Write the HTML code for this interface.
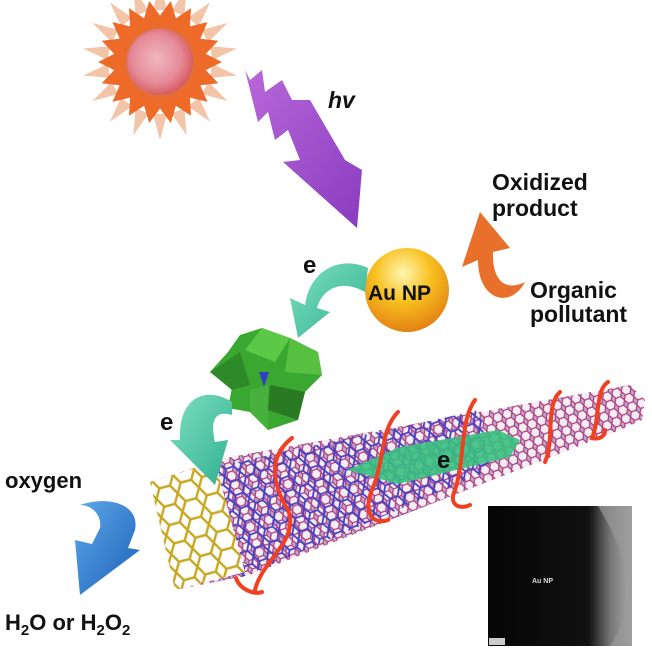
<!DOCTYPE html>
<html><head><meta charset="utf-8"><style>
body{margin:0;background:#fff}
svg{display:block}
text{font-family:"Liberation Sans",sans-serif;font-weight:bold;fill:#111}
</style></head><body>
<svg width="652" height="656" viewBox="0 0 652 656" xmlns="http://www.w3.org/2000/svg">
<defs>
<radialGradient id="sun" cx="0.45" cy="0.45" r="0.6"><stop offset="0" stop-color="#f0b8c0"/><stop offset="0.6" stop-color="#e68a98"/><stop offset="1" stop-color="#d05050"/></radialGradient>
<radialGradient id="au" cx="0.45" cy="0.3" r="0.75"><stop offset="0" stop-color="#fff6b0"/><stop offset="0.45" stop-color="#f8c020"/><stop offset="1" stop-color="#e07a10"/></radialGradient>
<linearGradient id="purp" x1="0" y1="0" x2="1" y2="1"><stop offset="0" stop-color="#b868d8"/><stop offset="1" stop-color="#8a3cc0"/></linearGradient>
<linearGradient id="teal" x1="0" y1="0" x2="1" y2="1"><stop offset="0" stop-color="#7fe0c0"/><stop offset="1" stop-color="#30b090"/></linearGradient>
<linearGradient id="blue" x1="0" y1="0" x2="1" y2="1"><stop offset="0" stop-color="#5fa8e8"/><stop offset="1" stop-color="#1a5fb8"/></linearGradient>
<linearGradient id="tem" x1="0" y1="0" x2="1" y2="0"><stop offset="0" stop-color="#050505"/><stop offset="0.7" stop-color="#111"/><stop offset="0.85" stop-color="#777"/><stop offset="1" stop-color="#aaa"/></linearGradient>
<pattern id="hex" width="10" height="9" patternUnits="userSpaceOnUse" patternTransform="rotate(-20)">
<rect width="10" height="9" fill="#b8a8d0"/>
<path d="M0 4.5 L2.5 0 L7.5 0 L10 4.5 L7.5 9 L2.5 9 Z" fill="#f4eef4" stroke="#b03878" stroke-width="1.2"/>
</pattern>
<pattern id="hex2" width="16" height="14" patternUnits="userSpaceOnUse" patternTransform="rotate(-20)">
<path d="M0 7 L4 0 L12 0 L16 7 L12 14 L4 14 Z" fill="none" stroke="#4a40c0" stroke-width="1.8"/>
</pattern>
<pattern id="hexy" width="22" height="19" patternUnits="userSpaceOnUse" patternTransform="rotate(-15)">
<path d="M0 9.5 L5.5 0 L16.5 0 L22 9.5 L16.5 19 L5.5 19 Z" fill="none" stroke="#c8a820" stroke-width="2.4"/>
</pattern>
<polygon id="sp" points="-7,-52 0,-78 7,-52"/>
<polygon id="pt" points="-11,-40 0,-62 11,-40"/>
</defs>

<!-- sun -->
<g transform="translate(160,62)">
<g fill="#f2c4a8">
<use href="#sp"/><use href="#sp" transform="rotate(20)"/><use href="#sp" transform="rotate(40)"/><use href="#sp" transform="rotate(60)"/><use href="#sp" transform="rotate(80)"/><use href="#sp" transform="rotate(100)"/><use href="#sp" transform="rotate(120)"/><use href="#sp" transform="rotate(140)"/><use href="#sp" transform="rotate(160)"/><use href="#sp" transform="rotate(180)"/><use href="#sp" transform="rotate(200)"/><use href="#sp" transform="rotate(220)"/><use href="#sp" transform="rotate(240)"/><use href="#sp" transform="rotate(260)"/><use href="#sp" transform="rotate(280)"/><use href="#sp" transform="rotate(300)"/><use href="#sp" transform="rotate(320)"/><use href="#sp" transform="rotate(340)"/>
</g>
<g fill="#ee6a28">
<circle r="46"/>
<use href="#pt" transform="rotate(10)"/><use href="#pt" transform="rotate(30)"/><use href="#pt" transform="rotate(50)"/><use href="#pt" transform="rotate(70)"/><use href="#pt" transform="rotate(90)"/><use href="#pt" transform="rotate(110)"/><use href="#pt" transform="rotate(130)"/><use href="#pt" transform="rotate(150)"/><use href="#pt" transform="rotate(170)"/><use href="#pt" transform="rotate(190)"/><use href="#pt" transform="rotate(210)"/><use href="#pt" transform="rotate(230)"/><use href="#pt" transform="rotate(250)"/><use href="#pt" transform="rotate(270)"/><use href="#pt" transform="rotate(290)"/><use href="#pt" transform="rotate(310)"/><use href="#pt" transform="rotate(330)"/><use href="#pt" transform="rotate(350)"/>
</g>
<circle r="34" fill="url(#sun)" stroke="#e07040" stroke-width="2"/>
</g>

<!-- purple zigzag arrow -->
<path d="M245 70 L250 80 L262 70 L265 92 L282 80 L292 100 L310 100 L345 160 L362 170 L357 228 L283 162 L300 160 L288 130 L275 140 L268 112 L258 122 Z" fill="url(#purp)"/>
<text x="328" y="108" font-size="23" font-style="italic">hv</text>

<!-- texts right -->
<text x="492" y="190" font-size="23">Oxidized</text>
<text x="492" y="216" font-size="23">product</text>
<text x="530" y="298" font-size="23">Organic</text>
<text x="530" y="322" font-size="23">pollutant</text>

<!-- orange arrow -->
<path d="M525 282 C510 310 478 300 478 260 L462 267 L480 212 L510 248 L493 252 C492 280 505 292 525 282 Z" fill="#e8702a"/>

<!-- Au NP -->
<circle cx="407" cy="290" r="42" fill="url(#au)"/>
<text x="368" y="300" font-size="21">Au NP</text>

<!-- teal arrow 1 -->
<text x="303" y="273" font-size="24">e</text>
<path d="M368 268 C340 255 310 270 305 305 L290 298 L298 338 L330 312 L317 308 C322 290 340 278 365 292 Z" fill="url(#teal)"/>

<!-- polyhedra -->
<g>
<polygon points="262,328 290,338 318,352 322,375 305,392 298,420 268,430 250,412 228,408 232,388 210,372 228,352 240,335" fill="#3aa830"/>
<polygon points="262,328 290,338 275,362 245,350" fill="#5cc848"/>
<polygon points="210,372 240,352 250,385 232,390" fill="#2e8a28"/>
<polygon points="290,338 318,352 322,375 285,372" fill="#58c040"/>
<polygon points="270,385 305,392 298,420 268,410" fill="#2a7a24"/>
<polygon points="250,390 268,385 268,430 250,412" fill="#48b03c"/>
<polygon points="259,372 269,372 264,387" fill="#3040c0"/>
</g>

<!-- tube -->
<polygon points="150,482 225,458 630,385 645,400 642,420 620,430 250,575 175,590" fill="url(#hex)"/>
<polygon points="200,470 480,410 490,470 240,578 220,575" fill="url(#hex2)"/>
<polygon points="150,482 215,462 245,572 175,590" fill="#fff"/>
<polygon points="150,482 215,462 245,572 175,590" fill="url(#hexy)"/>

<!-- teal arrow 2 -->
<text x="160" y="430" font-size="24">e</text>
<path d="M232 402 C205 385 178 398 180 440 L170 440 L215 485 L228 440 L215 442 C210 420 215 410 232 415 Z" fill="url(#teal)"/>

<!-- green arrow inside -->
<path d="M347 470 L400 447 L498 430 L520 440 L510 457 L398 484 Z" fill="#38c080" opacity="0.9"/>
<text x="437" y="468" font-size="24">e</text>
<!-- red spirals -->
<g fill="none" stroke="#f04020" stroke-width="4" stroke-linecap="round">
<path d="M292 438 C270 455 270 480 288 510 C300 540 262 560 255 590 M236 578 C240 590 255 595 262 592"/>
<path d="M398 412 C380 430 385 460 372 490 C362 515 375 525 388 520"/>
<path d="M475 400 C460 420 465 460 455 490 C448 505 460 510 470 505"/>
<path d="M560 392 C545 405 555 440 545 462"/>
<path d="M608 382 C595 390 600 420 592 438 C600 440 605 436 605 430"/>
</g>

<!-- oxygen -->
<text x="5" y="488" font-size="22">oxygen</text>
<path d="M80 505 C110 495 140 505 135 530 L128 548 L140 550 L80 595 L75 540 L92 544 L100 528 C102 515 92 505 80 505 Z" fill="url(#blue)"/>
<text x="5" y="630" font-size="22">H<tspan font-size="15" dy="5">2</tspan><tspan dy="-5">O or H</tspan><tspan font-size="15" dy="5">2</tspan><tspan dy="-5">O</tspan><tspan font-size="15" dy="5">2</tspan></text>

<!-- TEM inset -->
<rect x="488" y="506" width="144" height="140" fill="url(#tem)"/>
<path d="M598 506 C630 560 640 600 610 646 L632 646 L632 506 Z" fill="#999" opacity="0.7"/>
<text x="532" y="583" font-size="7" style="fill:#ddd" font-family="Liberation Serif">Au NP</text>
<rect x="489" y="638" width="16" height="7" fill="#ccc"/>
</svg>
</body></html>
